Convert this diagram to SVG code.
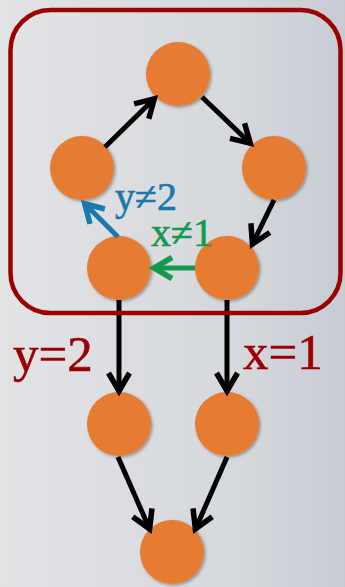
<svg xmlns="http://www.w3.org/2000/svg" width="345" height="587" viewBox="0 0 345 587">
<defs>
<linearGradient id="bg" x1="0" y1="0" x2="1" y2="0">
<stop offset="0" stop-color="#e2e3e5"/>
<stop offset="0.7" stop-color="#d5d8dc"/>
<stop offset="1" stop-color="#c7ccd4"/>
</linearGradient>
<filter id="sh" x="-20%" y="-20%" width="150%" height="150%">
<feDropShadow dx="1.5" dy="1.5" stdDeviation="1.5" flood-color="#000" flood-opacity="0.35"/>
</filter>
<marker id="ak" viewBox="-22 -12 26 24" refX="0" refY="0" markerWidth="26" markerHeight="24" markerUnits="userSpaceOnUse" orient="auto" overflow="visible">
<path d="M-19,-10.5 L-1,0 L-19,10.5" fill="none" stroke="#000" stroke-width="5.5"/>
</marker>
<marker id="ag" viewBox="-22 -12 26 24" refX="0" refY="0" markerWidth="26" markerHeight="24" markerUnits="userSpaceOnUse" orient="auto" overflow="visible">
<path d="M-19,-10.5 L-1,0 L-19,10.5" fill="none" stroke="#16994b" stroke-width="5.5"/>
</marker>
<marker id="ab" viewBox="-22 -12 26 24" refX="0" refY="0" markerWidth="26" markerHeight="24" markerUnits="userSpaceOnUse" orient="auto" overflow="visible">
<path d="M-19,-10.5 L-1,0 L-19,10.5" fill="none" stroke="#1a78aa" stroke-width="5.5"/>
</marker>
</defs>
<style>
.n{fill:#e67b33;filter:url(#sh)}
.e{fill:none;stroke:#000;stroke-width:5;marker-end:url(#ak)}
.lbl{font-family:"Liberation Serif","Times New Roman",serif;stroke-width:0.6}
</style>
<rect x="0" y="0" width="345" height="587" fill="url(#bg)"/>
<g id="nodes">
<g id="n-top"><circle class="n" cx="178" cy="74" r="32"/></g>
<g id="n-left"><circle class="n" cx="82" cy="168" r="32"/></g>
<g id="n-right"><circle class="n" cx="274" cy="168" r="32"/></g>
<g id="n-bl"><circle class="n" cx="119" cy="268" r="32"/></g>
<g id="n-br"><circle class="n" cx="227" cy="268" r="32"/></g>
<g id="n-ll"><circle class="n" cx="119" cy="424" r="32"/></g>
<g id="n-lr"><circle class="n" cx="227" cy="424" r="32"/></g>
<g id="n-bot"><circle class="n" cx="172" cy="552" r="32"/></g>
</g>
<g id="connectors">
<line class="e" x1="105" y1="147" x2="155" y2="98"/>
<line class="e" x1="202" y1="97" x2="251" y2="144"/>
<line class="e" x1="274" y1="200" x2="252" y2="245"/>
<line class="e" x1="195" y1="268" x2="153" y2="268" style="stroke:#16994b;marker-end:url(#ag)"/>
<line class="e" x1="118" y1="237" x2="84" y2="203" style="stroke:#1a78aa;marker-end:url(#ab)"/>
<line class="e" x1="119" y1="300" x2="119" y2="392"/>
<line class="e" x1="227" y1="300" x2="227" y2="392"/>
<line class="e" x1="118" y1="457" x2="150" y2="530"/>
<line class="e" x1="227" y1="457" x2="195" y2="530"/>
</g>
<g id="group-box">
<rect x="10.5" y="10" width="330" height="303" rx="40" ry="40" fill="none" stroke="#9b0000" stroke-width="4.5"/>
</g>
<g id="labels" class="lbl">
<text x="115" y="210" font-size="40" fill="#1a78aa" stroke="#1a78aa">y≠2</text>
<text x="151" y="246" font-size="40" fill="#16994b" stroke="#16994b">x≠1</text>
<text x="13" y="371" font-size="51" fill="#9b0000" stroke="#9b0000">y=2</text>
<text x="243" y="369" font-size="51" fill="#9b0000" stroke="#9b0000">x=1</text>
</g>
</svg>
